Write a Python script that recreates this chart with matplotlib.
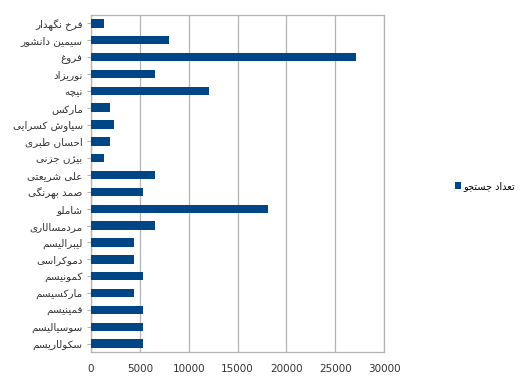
import numpy as np
import matplotlib.pyplot as plt

labels = ['فرخ نگهدار', 'سیمین دانشور', 'فروغ', 'نوریزاد', 'نیچه', 'مارکس',
          'سیاوش کسرایی', 'احسان طبری', 'بیژن جزنی', 'علی شریعتی', 'صمد بهرنگی',
          'شاملو', 'مردمسالاری', 'لیبرالیسم', 'دموکراسی', 'کمونیسم', 'مارکسیسم',
          'فمینیسم', 'سوسیالیسم', 'سکولاریسم']
values = [1300, 8000, 27100, 6600, 12100, 1950, 2400, 1950, 1300, 6600, 5300,
          18100, 6600, 4400, 4400, 5300, 4400, 5300, 5300, 5300]
series_name = 'تعداد جستجو'

# simple arabic/persian shaping (matplotlib has no text shaping)
FORMS = {
    'ا': (0xFE8D, 0xFE8E), 'آ': (0xFE81, 0xFE82), 'د': (0xFEA9, 0xFEAA),
    'ذ': (0xFEAB, 0xFEAC), 'ر': (0xFEAD, 0xFEAE), 'ز': (0xFEAF, 0xFEB0),
    'و': (0xFEED, 0xFEEE), 'ژ': (0xFB8A, 0xFB8B),
    'ب': 0xFE8F, 'ت': 0xFE95, 'ث': 0xFE99, 'ج': 0xFE9D, 'ح': 0xFEA1,
    'خ': 0xFEA5, 'س': 0xFEB1, 'ش': 0xFEB5, 'ص': 0xFEB9, 'ض': 0xFEBD,
    'ط': 0xFEC1, 'ظ': 0xFEC5, 'ع': 0xFEC9, 'غ': 0xFECD, 'ف': 0xFED1,
    'ق': 0xFED5, 'ل': 0xFEDD, 'م': 0xFEE1, 'ن': 0xFEE5, 'ه': 0xFEE9,
    'ی': 0xFBFC, 'پ': 0xFB56, 'چ': 0xFB7A, 'ک': 0xFB8E, 'گ': 0xFB92,
}


def joins_next(c):
    return c in FORMS and not isinstance(FORMS[c], tuple)


def shape(text):
    out = []
    for i, c in enumerate(text):
        if c not in FORMS:
            out.append(c)
            continue
        prev = text[i - 1] if i > 0 else ' '
        nxt = text[i + 1] if i + 1 < len(text) else ' '
        jp = joins_next(prev)
        jn = joins_next(c) and nxt in FORMS
        f = FORMS[c]
        if isinstance(f, tuple):
            out.append(chr(f[1] if jp else f[0]))
        else:
            idx = (3 if jn else 1) if jp else (2 if jn else 0)
            out.append(chr(f + idx))
    # visual order: right-to-left
    return ''.join(out)[::-1]


plt.rcParams['font.family'] = ['DejaVu Sans']

fig = plt.figure(figsize=(5.3, 3.84), dpi=100)
ax = fig.add_axes([91 / 530, 32 / 384, 293 / 530, 337 / 384])

y = np.arange(len(labels))
ax.barh(y, values, height=0.5, color='#004586', label=shape(series_name), zorder=3)
ax.set_ylim(len(labels) - 0.5, -0.5)
ax.set_xlim(0, 30000)
ax.set_xticks(np.arange(0, 30001, 5000))
ax.set_yticks(y)
ax.set_yticklabels([shape(l) for l in labels], fontsize=7.5, color='#333333')
ax.tick_params(axis='x', labelsize=7.5, length=0, pad=9, colors='#333333')
ax.tick_params(axis='y', length=3, color='#b3b3b3', pad=3)
ax.grid(axis='x', color='#b3b3b3', linewidth=0.9, zorder=0)
for s in ax.spines.values():
    s.set_color('#b3b3b3')
    s.set_linewidth(0.9)

fig.legend(loc='center left', bbox_to_anchor=(450 / 530, 1 - 186 / 384),
           frameon=False, fontsize=7, handlelength=0.6, handleheight=0.6,
           handletextpad=0.3, borderpad=0)

fig.savefig('out.png', dpi=100)
